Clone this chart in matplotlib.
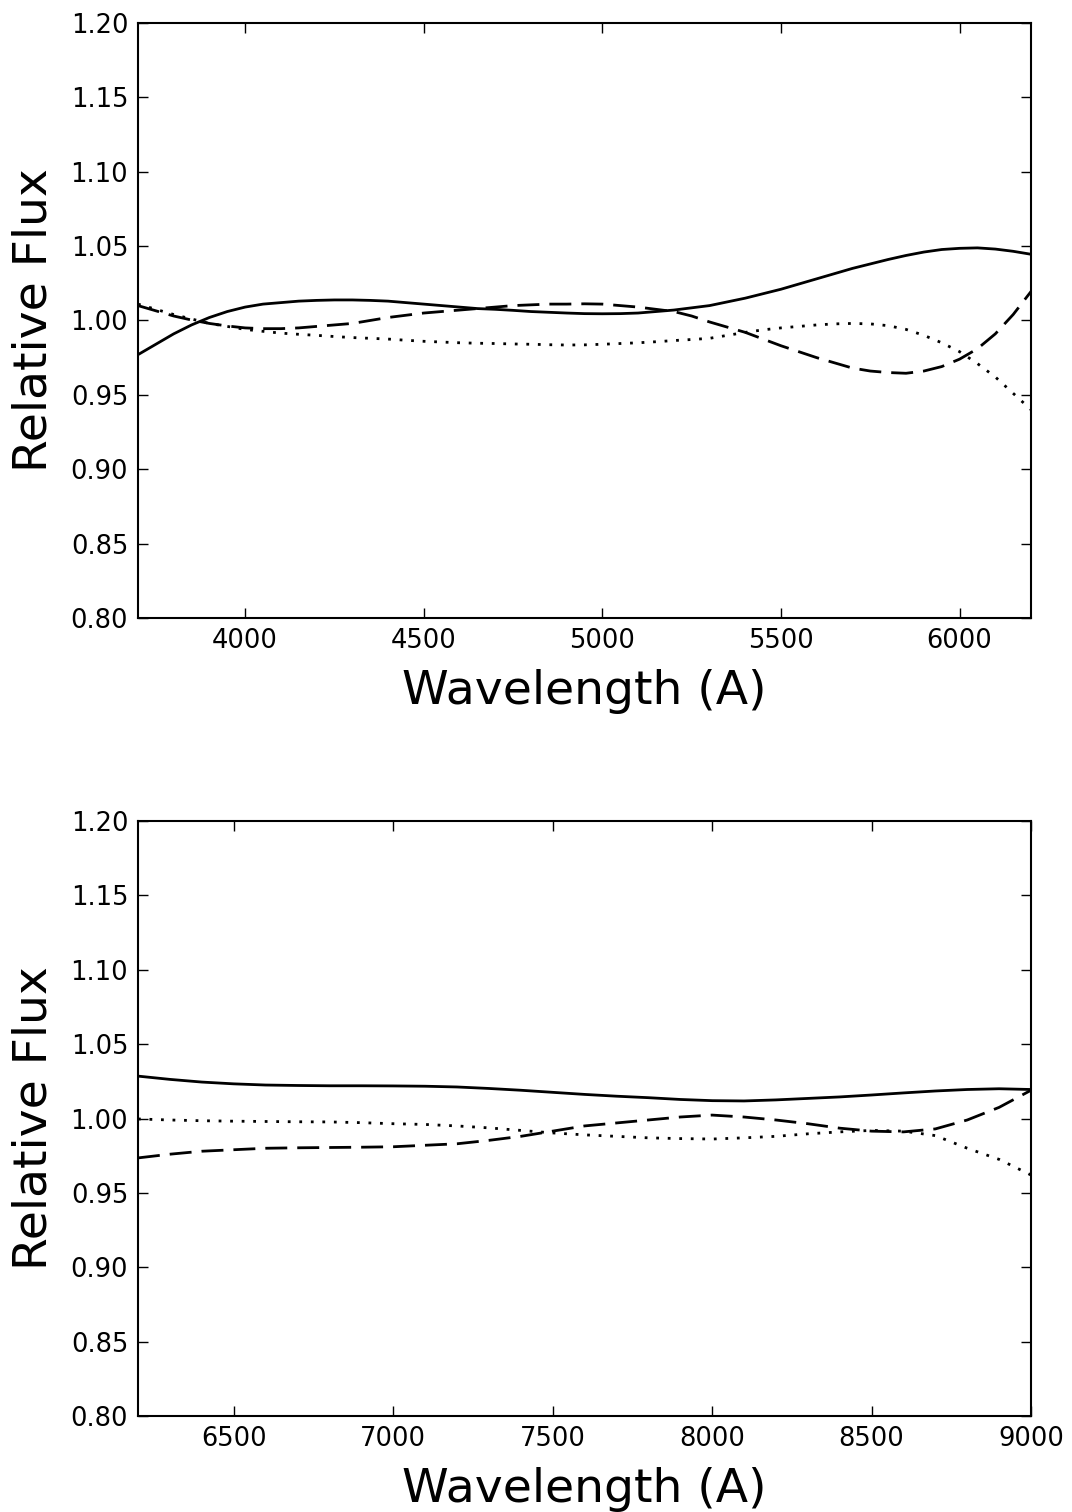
import matplotlib
matplotlib.use("Agg")
import matplotlib.pyplot as plt

plt.rcParams['lines.scale_dashes'] = False

# blue side of the spectrum (50 A steps)
wave_blue = list(range(3700, 6201, 50))
solid_blue = [0.977, 0.984, 0.991, 0.997, 1.002, 1.006, 1.009, 1.011, 1.012, 1.013,
              1.0135, 1.0138, 1.0138, 1.0135, 1.013, 1.012, 1.011, 1.010, 1.009, 1.008,
              1.0075, 1.0068, 1.006, 1.0055, 1.005, 1.0046, 1.0045, 1.0046, 1.005, 1.006,
              1.007, 1.0085, 1.010, 1.0125, 1.015, 1.018, 1.021, 1.0245, 1.028, 1.0315,
              1.035, 1.038, 1.041, 1.0437, 1.046, 1.0477, 1.0485, 1.0488, 1.048, 1.0465,
              1.0445]
dashed_blue = [1.010, 1.0065, 1.003, 1.0003, 0.998, 0.9963, 0.995, 0.9945, 0.9945, 0.995,
               0.996, 0.997, 0.998, 1.000, 1.002, 1.0035, 1.005, 1.006, 1.007, 1.008,
               1.009, 1.010, 1.0105, 1.011, 1.011, 1.0112, 1.011, 1.010, 1.009, 1.0075,
               1.006, 1.003, 0.999, 0.9955, 0.992, 0.9875, 0.983, 0.979, 0.975, 0.9715,
               0.968, 0.966, 0.965, 0.9645, 0.966, 0.969, 0.974, 0.981, 0.991, 1.004,
               1.0195]
dotted_blue = [1.011, 1.0075, 1.004, 1.001, 0.998, 0.996, 0.994, 0.9927, 0.9915, 0.9907,
               0.990, 0.9892, 0.9885, 0.988, 0.9875, 0.9867, 0.986, 0.9855, 0.985, 0.9847,
               0.9845, 0.9842, 0.984, 0.9837, 0.9835, 0.9836, 0.984, 0.9845, 0.985, 0.9857,
               0.9865, 0.9872, 0.988, 0.990, 0.992, 0.9937, 0.995, 0.996, 0.997, 0.9977,
               0.998, 0.9977, 0.9965, 0.994, 0.990, 0.985, 0.979, 0.971, 0.962, 0.951,
               0.940]

# red side (100 A steps)
wave_red = list(range(6200, 9001, 100))
solid_red = [1.0285, 1.0263, 1.0245, 1.0233, 1.0225, 1.0222, 1.022, 1.022, 1.0219, 1.0217,
             1.0212, 1.0202, 1.019, 1.0176, 1.0162, 1.015, 1.014, 1.0128, 1.012, 1.0118,
             1.0125, 1.0135, 1.0145, 1.0158, 1.0172, 1.0185, 1.0195, 1.020, 1.0195]
dashed_red = [0.9735, 0.976, 0.978, 0.979, 0.980, 0.9803, 0.9805, 0.9807, 0.981, 0.982,
              0.983, 0.9853, 0.988, 0.9915, 0.995, 0.997, 0.999, 1.001, 1.0023, 1.001,
              0.999, 0.9965, 0.9935, 0.9915, 0.991, 0.993, 0.999, 1.0075, 1.019]
dotted_red = [0.9997, 0.999, 0.9985, 0.9982, 0.998, 0.9978, 0.9977, 0.9972, 0.9965, 0.996,
              0.995, 0.9937, 0.992, 0.9903, 0.989, 0.988, 0.987, 0.9865, 0.9862, 0.987,
              0.988, 0.9897, 0.991, 0.992, 0.9915, 0.9885, 0.980, 0.9725, 0.962]

yticks = [0.80, 0.85, 0.90, 0.95, 1.00, 1.05, 1.10, 1.15, 1.20]


def panel(ax, wave, solid, dashed, dotted, xlim, xticks):
    ax.plot(wave, solid, color="black", lw=2.0, ls="-")
    ax.plot(wave, dashed, color="black", lw=2.0, dashes=(15.8, 7.2))
    ax.plot(wave, dotted, color="black", lw=2.0, dashes=(2.0, 6.3))
    ax.set_xlim(xlim)
    ax.set_ylim(0.80, 1.20)
    ax.set_xticks(xticks)
    ax.set_yticks(yticks)
    ax.set_yticklabels(["%.2f" % v for v in yticks])
    ax.tick_params(direction="in", top=True, right=True, length=7,
                   width=1, labelsize=18.5, pad=7)
    for s in ax.spines.values():
        s.set_linewidth(1.5)
    ax.set_xlabel("Wavelength (A)", fontsize=34, labelpad=11)
    ax.set_ylabel("Relative Flux", fontsize=34, labelpad=10)


fig = plt.figure(figsize=(10.72, 15.12), dpi=100)
ax1 = fig.add_axes([0.1287, 0.5913, 0.8331, 0.3935])
ax2 = fig.add_axes([0.1287, 0.0635, 0.8331, 0.3935])

panel(ax1, wave_blue, solid_blue, dashed_blue, dotted_blue,
      (3700, 6200), [4000, 4500, 5000, 5500, 6000])
panel(ax2, wave_red, solid_red, dashed_red, dotted_red,
      (6200, 9000), [6500, 7000, 7500, 8000, 8500, 9000])

plt.savefig("out.png", dpi=100)
